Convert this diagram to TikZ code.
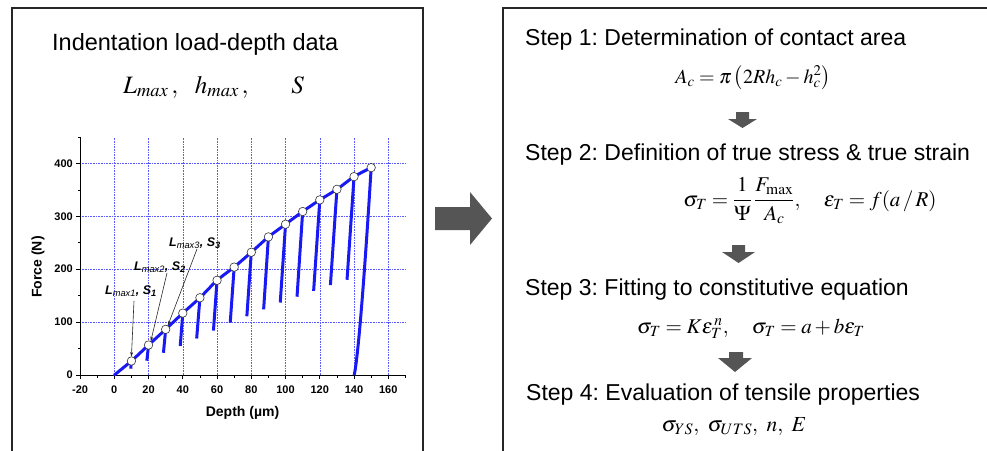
\documentclass[tikz,border=0pt]{standalone}
\usepackage{amsmath}
\usepackage{mathptmx}
\usepackage[no-math]{fontspec}
\setmainfont{Liberation Sans}
\usetikzlibrary{arrows.meta}
\definecolor{plotblue}{RGB}{25,25,245}
\definecolor{arrowgray}{RGB}{85,85,85}
\definecolor{gridblue}{RGB}{90,90,255}
\frenchspacing
\begin{document}
\begin{tikzpicture}[x=1pt,y=-1pt,
  frame/.style={draw=black!85, line width=1.3pt},
  bigarrow/.style={fill=arrowgray},
  steptext/.style={anchor=base west, inner sep=0pt, font=\fontsize{23}{27}\selectfont},
  formula/.style={anchor=base, inner sep=0pt, font=\fontsize{20}{24}\selectfont},
  titletext/.style={anchor=base west, inner sep=0pt, font=\fontsize{23.5}{27}\selectfont},
  gridline/.style={gridblue, densely dotted, line width=0.6pt},
  axisline/.style={black, line width=0.9pt},
  ticklabel/.style={inner sep=0pt, font=\fontsize{11}{13}\selectfont\bfseries},
  axislabel/.style={inner sep=0pt, font=\fontsize{14}{16}\selectfont\bfseries},
  loadline/.style={plotblue, line width=3pt},
  datapt/.style={circle, draw=black!80, fill=white, line width=0.6pt, inner sep=0pt, minimum size=8.5pt},
  annot/.style={anchor=base west, inner sep=0pt, font=\fontsize{12.5}{14}\selectfont\bfseries\itshape},
  annarrow/.style={black!85, line width=0.6pt, -{Stealth[length=4.5pt,width=3pt]}}
]
\useasboundingbox (0,0) rectangle (987,450);

% frames
\draw[frame] (12,470) -- (12,8) -- (423,8) -- (423,470);
\draw[frame] (503,470) -- (503,8) -- (995,8);

% left title
\node[titletext] (title) at (52,50) {Indentation load-depth data};
\node[formula, anchor=base west, font=\fontsize{25}{30}\selectfont] (params) at (123,93) {$L_{max}\,,\hspace{14pt} h_{max}\,,\hspace{40pt} S$};

% plot
\begin{scope}[shift={(114.3pt,-375pt)}, x=1.7125pt, y=0.529pt]
  \foreach \d in {0,20,...,160} \draw[gridline] (\d,0) -- (\d,450);
  \foreach \f in {100,200,300,400} \draw[gridline] (-20,\f) -- (170,\f);
  \draw[axisline] (-20,450) -- (-20,0) -- (170,0);
  \foreach \f in {0,100,...,400} \draw[axisline] (-20,\f) -- ++(-4pt,0);
  \foreach \f in {50,150,...,450} \draw[axisline, line width=0.6pt] (-20,\f) -- ++(-2.5pt,0);
  \foreach \d in {-20,0,...,160} \draw[axisline] (\d,0) -- ++(0,-4pt);
  \foreach \d in {-10,10,...,170} \draw[axisline, line width=0.6pt] (\d,0) -- ++(0,-2.5pt);
  \foreach \d [count=\i] in {-20,0,...,160}
    \path (\d,0) ++(0,-18pt) node[ticklabel, anchor=base] (xl\i) {\d};
  \foreach \f [count=\i] in {0,100,...,400}
    \path (-20,\f) ++(-7pt,0) node[ticklabel, anchor=east] (yl\i) {\f};
  % loading curve
  \draw[loadline, line cap=round] plot[smooth, tension=0.4] coordinates {(0,0) (10,26.5) (20,56.7) (30,86.3) (40,117) (50,146) (60,179) (70,204) (80,232) (90,261) (100,285) (110,309) (120,331) (130,351) (140,375) (150,392)};
  % unloading segments
  \foreach \d/\f/\bd/\bf in {10/26.5/9.6/12, 20/56.7/19.0/27, 30/86.3/28.7/42, 40/117/38.5/55, 50/146/48.1/69, 60/179/57.9/84, 70/204/67.7/99, 80/232/77.4/111, 90/261/87.2/124, 100/285/96.9/137, 110/309/106.7/148, 120/331/116.4/159, 130/351/126.2/170, 140/375/135.9/180}
    \draw[loadline] (\d,\f) -- (\bd,\bf);
  \draw[loadline] (150,392) -- plot[domain=1:0.02, samples=40] ({140+10*\x}, {392*\x^1.35}) -- (140,0);
  % data points
  \foreach \d/\f [count=\i] in {10/26.5, 20/56.7, 30/86.3, 40/117, 50/146, 60/179, 70/204, 80/232, 90/261, 100/285, 110/309, 120/331, 130/351, 140/375, 150/392}
    \node[datapt] (p\i) at (\d,\f) {};
\end{scope}

\node[axislabel, rotate=90] (ylab) at (38,267) {Force (N)};
\node[axislabel, anchor=base] (xlab) at (242.5,416.5) {Depth (\textmu m)};

% annotations
\node[annot] (a1) at (105,294) {L\textsubscript{\mdseries max1}, S\textsubscript{1}};
\node[annot] (a2) at (134,270) {L\textsubscript{\mdseries max2}, S\textsubscript{2}};
\node[annot] (a3) at (169,246) {L\textsubscript{\mdseries max3}, S\textsubscript{3}};
\coordinate (a1s) at (134,301);
\coordinate (a2s) at (167,273);
\coordinate (a3s) at (197,249);
\draw[annarrow] (a1s) -- (p1.north);
\draw[annarrow] (a2s) -- (p2.60);
\draw[annarrow] (a3s) -- (p3.60);

% big right arrow
\fill[bigarrow] (435,207) -- (470,207) -- (470,192) -- (492,218.5) -- (470,245) -- (470,230) -- (435,230) -- cycle;

% steps
\node[steptext] (s1) at (525,45) {Step 1: Determination of contact area};
\node[formula] (f1) at (753,83) {$A_c = \pi\left(2Rh_c - h_c^2\right)$};
\fill[bigarrow] (736,112) -- (749,112) -- (749,119) -- (757,119) -- (742.5,128) -- (728,119) -- (736,119) -- cycle;
\node[steptext] (s2) at (525,160) {Step 2: Definition of true stress \& true strain};
\node[formula, font=\fontsize{21}{25}\selectfont] (f2) at (810,206) {$\sigma_T = \dfrac{1}{\Psi}\,\dfrac{F_{\max}}{A_c},\quad \varepsilon_T = f(a\,/\,R)$};
\fill[bigarrow] (732,245) -- (745,245) -- (745,252) -- (755,252) -- (738.5,263) -- (722,252) -- (732,252) -- cycle;
\node[steptext] (s3) at (525,295) {Step 3: Fitting to constitutive equation};
\node[formula, font=\fontsize{21}{25}\selectfont] (f3) at (751,333) {$\sigma_T = K\varepsilon_T^{\,n},\quad \sigma_T = a + b\varepsilon_T$};
\fill[bigarrow] (729,352) -- (743,352) -- (743,358) -- (752,358) -- (735,372) -- (718,358) -- (729,358) -- cycle;
\node[steptext] (s4) at (526,400) {Step 4: Evaluation of tensile properties};
\node[formula, font=\fontsize{21.5}{25}\selectfont] (f4) at (734,431.5) {$\sigma_{YS},\ \sigma_{UTS},\ n,\ E$};
\end{tikzpicture}
\end{document}
